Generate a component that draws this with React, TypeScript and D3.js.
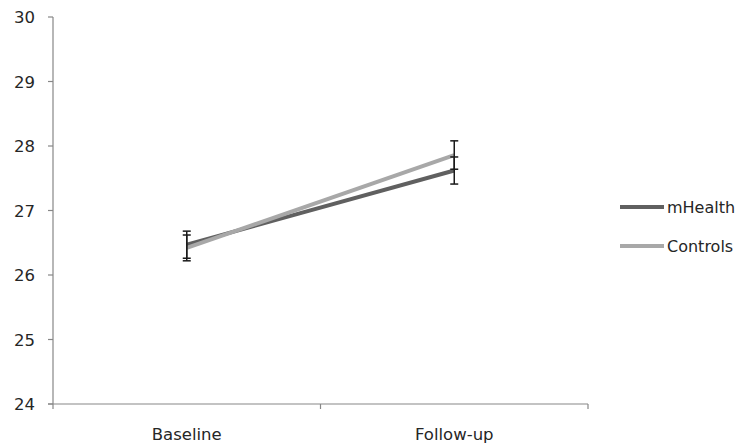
import { useEffect, useRef } from 'react';
import * as d3 from 'd3';

const categories = ['Baseline', 'Follow-up'];
const mHealth = [26.47, 27.62];
const mHealthErr = [0.21, 0.21];
const controls = [26.42, 27.86];
const controlsErr = [0.2, 0.22];
const yTicks = [24, 25, 26, 27, 28, 29, 30];

const series = [
  { name: 'mHealth', values: mHealth, err: mHealthErr, color: '#606060' },
  { name: 'Controls', values: controls, err: controlsErr, color: '#a8a8a8' },
];

export default function App() {
  const svgRef = useRef<SVGSVGElement>(null);
  const width = 743;
  const height = 446;

  useEffect(() => {
    if (!svgRef.current) return;
    const svg = d3.select(svgRef.current);
    svg.selectAll('*').remove();

    const left = 53;
    const right = 588;
    const top = 17;
    const bottom = 404;
    const font = 'Tahoma, "DejaVu Sans", sans-serif';

    const x = d3.scaleBand<string>().domain(categories).range([left, right]);
    const y = d3.scaleLinear().domain([24, 30]).range([bottom, top]);
    const cx = (c: string) => (x(c) ?? 0) + x.bandwidth() / 2;

    // y axis
    svg.append('line')
      .attr('x1', left).attr('x2', left)
      .attr('y1', top).attr('y2', bottom)
      .attr('stroke', '#878787').attr('stroke-width', 1.2);
    yTicks.forEach((t) => {
      svg.append('line')
        .attr('x1', left - 5).attr('x2', left)
        .attr('y1', y(t)).attr('y2', y(t))
        .attr('stroke', '#878787').attr('stroke-width', 1.2);
      svg.append('text')
        .attr('x', 35).attr('y', y(t) + 6)
        .attr('text-anchor', 'end')
        .attr('font-family', font).attr('font-size', 16.5)
        .attr('fill', '#262626')
        .text(t);
    });

    // x axis
    svg.append('line')
      .attr('x1', left - 5).attr('x2', right)
      .attr('y1', bottom).attr('y2', bottom)
      .attr('stroke', '#878787').attr('stroke-width', 1.2);
    const bounds = [left, ...categories.map((c) => (x(c) ?? 0) + x.bandwidth())];
    bounds.forEach((b) => {
      svg.append('line')
        .attr('x1', b).attr('x2', b)
        .attr('y1', bottom).attr('y2', bottom + 5)
        .attr('stroke', '#878787').attr('stroke-width', 1.2);
    });
    categories.forEach((c) => {
      svg.append('text')
        .attr('x', cx(c)).attr('y', 440)
        .attr('text-anchor', 'middle')
        .attr('font-family', font).attr('font-size', 16.5)
        .attr('fill', '#262626')
        .text(c);
    });

    const line = d3.line<number>()
      .x((_, i) => cx(categories[i]))
      .y((d) => y(d));

    series.forEach((s) => {
      svg.append('path')
        .datum(s.values)
        .attr('fill', 'none')
        .attr('stroke', s.color)
        .attr('stroke-width', 4)
        .attr('d', line as never);
    });

    // error bars
    series.forEach((s) => {
      s.values.forEach((v, i) => {
        const px = cx(categories[i]);
        const hi = y(v + s.err[i]);
        const lo = y(v - s.err[i]);
        const g = svg.append('g').attr('stroke', '#1a1a1a').attr('stroke-width', 1.5);
        g.append('line').attr('x1', px).attr('x2', px).attr('y1', hi).attr('y2', lo);
        g.append('line').attr('x1', px - 4).attr('x2', px + 4).attr('y1', hi).attr('y2', hi);
        g.append('line').attr('x1', px - 4).attr('x2', px + 4).attr('y1', lo).attr('y2', lo);
      });
    });

    // legend
    series.forEach((s, i) => {
      const ly = 207 + i * 39;
      svg.append('line')
        .attr('x1', 620).attr('x2', 664)
        .attr('y1', ly).attr('y2', ly)
        .attr('stroke', s.color).attr('stroke-width', 4);
      svg.append('text')
        .attr('x', 667).attr('y', ly + 6)
        .attr('font-family', font).attr('font-size', 16)
        .attr('fill', '#262626')
        .text(s.name);
    });
  }, []);

  return (
    <svg
      ref={svgRef}
      width={width}
      height={height}
      style={{ position: 'absolute', left: 0, top: 0, background: '#fff' }}
    />
  );
}
